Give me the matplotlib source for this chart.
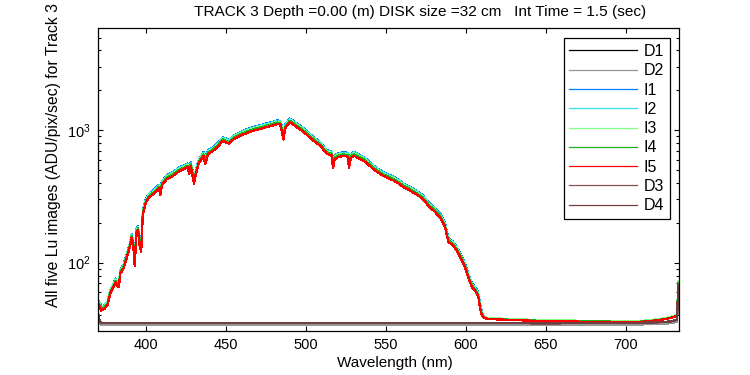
import matplotlib
matplotlib.use("Agg")
import matplotlib.pyplot as plt
from matplotlib.ticker import LogLocator, LogFormatterMathtext, NullFormatter, FixedLocator

plt.rcParams['font.family'] = ['Liberation Sans', 'DejaVu Sans']
plt.rcParams['mathtext.default'] = 'regular'

# ---------------- data ----------------
wavelength = [370, 371, 372, 374, 376, 377, 378, 380, 381, 382, 383, 384, 386, 388, 390, 391, 392, 393, 394, 395,
              396, 397, 398, 400, 402, 404, 406, 408, 409, 410, 413, 417, 421, 424, 426, 427, 428, 430, 431, 433,
              436, 437, 439, 442, 445, 448, 450, 452, 455, 459, 463, 467, 471, 475, 478, 482, 484, 486, 487, 490,
              493, 496, 499, 502, 505, 509, 513, 516, 517, 518, 520, 523, 526, 527, 528, 530, 533, 536, 539, 542,
              545, 548, 551, 555, 558, 561, 564, 567, 570, 573, 577, 580, 584, 587, 588, 589, 592, 594, 596, 598,
              600, 602, 604, 606, 607, 608, 609, 610, 611, 613, 616, 620, 630, 640, 650, 660, 670, 680, 690, 700,
              710, 715, 720, 725, 728, 731, 732, 733]

I1 = [52, 50, 46.3, 47.8, 51, 58, 63, 71, 76, 71, 70, 88, 97, 116, 140, 164, 148, 107, 179, 188,
      154, 135, 245, 304, 331, 346, 364, 387, 364, 411, 456, 484, 525, 543, 560, 520, 572, 442, 487, 598,
      681, 622, 707, 744, 801, 886, 863, 842, 915, 967, 1014, 1056, 1087, 1118, 1144, 1186, 1175, 952, 1102, 1222,
      1154, 1087, 1024, 946, 884, 811, 707, 692, 582, 645, 666, 681, 676, 582, 655, 684, 655, 627, 588, 543,
      512, 485, 466, 444, 421, 396, 380, 362, 343, 323, 283, 262, 234, 198, 175, 154, 144, 133, 121, 108,
      95, 79, 70, 64.5, 62.4, 57.2, 47.8, 42.6, 39.2, 38.1, 37.8, 37.5, 37.1, 36.7, 36.5, 36.3, 36.1, 36.0, 36.0, 35.9,
      36.0, 36.4, 37.0, 37.7, 38.5, 39.5, 40.1, 68]

I2 = [51.5, 49.4, 45.8, 47.4, 50.5, 57.7, 62.8, 70, 75.2, 70, 69, 87.6, 95.8, 115, 139, 163, 146, 106, 177, 186,
      152, 134, 243, 301, 328, 343, 361, 383, 361, 407, 451, 479, 520, 538, 554, 515, 567, 438, 482, 592,
      675, 616, 700, 736, 793, 878, 855, 834, 906, 958, 1004, 1045, 1076, 1107, 1133, 1174, 1164, 942, 1092, 1210,
      1143, 1076, 1015, 937, 876, 803, 700, 685, 577, 639, 659, 675, 670, 577, 649, 678, 649, 621, 582, 538,
      507, 480, 461, 440, 417, 392, 376, 358, 340, 320, 280, 260, 232, 196, 173, 152, 142, 132, 119, 107,
      94, 78, 69, 63.9, 61.8, 56.7, 47.4, 42.2, 39.0, 38.0, 37.7, 37.5, 37.1, 36.7, 36.5, 36.3, 36.1, 36.0, 36.0, 35.9,
      36.0, 36.4, 37.0, 37.7, 38.5, 39.5, 40.1, 69]

I3 = [50.8, 48.7, 45.2, 46.7, 49.7, 56.8, 61.9, 69, 74.1, 69, 68, 86.3, 94.4, 114, 137, 160, 144, 105, 175, 184,
      150, 132, 240, 296, 323, 338, 355, 378, 355, 401, 445, 472, 513, 530, 546, 508, 558, 431, 475, 584,
      665, 607, 690, 726, 782, 865, 842, 822, 893, 944, 990, 1030, 1061, 1091, 1117, 1157, 1147, 929, 1076, 1193,
      1127, 1061, 1000, 924, 863, 792, 690, 675, 568, 629, 650, 665, 660, 568, 639, 668, 639, 612, 573, 530,
      499, 473, 455, 433, 411, 387, 370, 353, 335, 316, 276, 256, 228, 193, 171, 150, 140, 130, 118, 106,
      92, 77, 68, 62.9, 60.9, 55.8, 46.7, 41.6, 39.4, 38.4, 38.1, 37.9, 37.5, 37.1, 36.9, 36.7, 36.5, 36.4, 36.4, 36.3,
      36.4, 36.8, 37.4, 38.1, 38.9, 40.0, 40.6, 72]

I4 = [50, 48, 44.5, 46, 49, 56, 61, 68, 73, 68, 67, 85, 93, 112, 135, 158, 142, 103, 172, 181,
      148, 130, 236, 292, 318, 333, 350, 372, 350, 395, 438, 465, 505, 522, 538, 500, 550, 425, 468, 575,
      655, 598, 680, 715, 770, 852, 830, 810, 880, 930, 975, 1015, 1045, 1075, 1100, 1140, 1130, 915, 1060, 1175,
      1110, 1045, 985, 910, 850, 780, 680, 665, 560, 620, 640, 655, 650, 560, 630, 658, 630, 603, 565, 522,
      492, 466, 448, 427, 405, 381, 365, 348, 330, 311, 272, 252, 225, 190, 168, 148, 138, 128, 116, 104,
      91, 76, 67, 62, 60, 55, 46, 41, 38.8, 37.9, 37.6, 37.4, 37.0, 36.6, 36.4, 36.2, 36.0, 35.9, 35.9, 35.8,
      35.9, 36.3, 36.9, 37.6, 38.4, 39.4, 40.0, 70]

I5 = [48.8, 46.8, 43.4, 44.9, 47.8, 54.6, 59.5, 66.3, 71.2, 66.3, 65.3, 82.9, 90.7, 109, 132, 154, 138, 94, 168, 176,
      136, 120, 230, 285, 310, 325, 341, 363, 325, 385, 427, 453, 492, 509, 525, 465, 536, 395, 456, 561,
      639, 556, 663, 697, 751, 831, 809, 790, 858, 907, 951, 990, 1019, 1048, 1073, 1112, 1102, 850, 1034, 1146,
      1082, 1019, 960, 887, 829, 761, 663, 648, 520, 605, 624, 639, 634, 520, 614, 642, 614, 588, 551, 509,
      480, 454, 437, 416, 395, 371, 356, 339, 322, 303, 265, 246, 219, 185, 164, 144, 135, 125, 113, 101,
      89, 74, 65, 60.5, 58.5, 53.6, 44.9, 40.0, 38.7, 37.8, 37.5, 37.3, 36.9, 36.5, 36.3, 36.1, 35.9, 35.8, 35.8, 35.7,
      35.8, 36.2, 36.8, 37.5, 38.3, 39.3, 39.9, 66]

dark_wavelength = [370, 371, 372, 380, 400, 450, 500, 550, 600, 650, 700, 720, 728, 732, 733]
D1 = [41, 36, 34.6, 34.7, 34.6, 34.5, 34.7, 34.6, 34.5, 34.5, 34.6, 35.0, 35.5, 36.5, 60]
D2 = [38, 35, 34.0, 34.1, 34.0, 34.0, 34.1, 34.0, 34.0, 33.9, 34.0, 34.4, 34.9, 35.8, 55]
D3 = [42, 36.5, 34.9, 35.0, 34.9, 34.9, 35.0, 34.9, 34.9, 34.8, 34.9, 35.4, 35.9, 37.0, 62]
D4 = [42, 36.5, 35.0, 34.9, 35.0, 35.0, 34.9, 35.0, 35.0, 34.9, 35.0, 35.5, 36.0, 37.2, 68]

series_names = ['D1', 'D2', 'I1', 'I2', 'I3', 'I4', 'I5', 'D3', 'D4']
series_colors = ['#000000', '#969696', '#0080FF', '#30E0F0', '#80FF80', '#20B020', '#FF0000', '#885050', '#704040']

title_text = "TRACK 3 Depth =0.00 (m) DISK size =32 cm   Int Time = 1.5 (sec)"
xlabel_text = "Wavelength (nm)"
ylabel_text = "All five Lu images (ADU/pix/sec) for Track 3"
xticks = [400, 450, 500, 550, 600, 650, 700]

# ---------------- figure ----------------
fig = plt.figure(figsize=(7.5, 3.75), dpi=100)
ax = fig.add_axes([98 / 750, 44 / 375, 580.5 / 750, 303 / 375])

series = {'D1': (dark_wavelength, D1), 'D2': (dark_wavelength, D2),
          'I1': (wavelength, I1), 'I2': (wavelength, I2), 'I3': (wavelength, I3),
          'I4': (wavelength, I4), 'I5': (wavelength, I5),
          'D3': (dark_wavelength, D3), 'D4': (dark_wavelength, D4)}

for name, col in zip(series_names, series_colors):
    xs, ys = series[name]
    ax.plot(xs, ys, color=col, lw=0.9, label=name, antialiased=False)

ax.set_yscale('log')
ax.set_xlim(370, 733)
ax.set_ylim(30.5, 5900)

ax.xaxis.set_major_locator(FixedLocator(xticks))
ax.yaxis.set_major_locator(LogLocator(base=10))
ax.yaxis.set_minor_locator(LogLocator(base=10, subs=range(2, 10)))
ax.yaxis.set_major_formatter(LogFormatterMathtext())
ax.yaxis.set_minor_formatter(NullFormatter())

ax.tick_params(which='both', direction='in', top=True, right=True, labelsize=10.5, width=0.8, color='black')
ax.tick_params(which='major', length=3.8)
ax.tick_params(which='minor', length=2.2)
ax.tick_params(axis='x', pad=5)
ax.tick_params(axis='y', pad=5)
for s in ax.spines.values():
    s.set_linewidth(0.9)

leg = ax.legend(loc='upper right', bbox_to_anchor=(0.985, 0.966), fontsize=11.5, frameon=True,
                fancybox=False, edgecolor='black', framealpha=1, handlelength=4.2, handletextpad=0.45,
                labelspacing=0.27, borderpad=0.35, borderaxespad=0)
leg.get_frame().set_linewidth(0.9)

fig.text(420 / 750, 1 - 12 / 375, title_text, ha='center', va='center', fontsize=11.1)
fig.text(395 / 750, 1 - 363 / 375, xlabel_text, ha='center', va='center', fontsize=11)
fig.text(54 / 750, 1 - 307 / 375, ylabel_text, ha='center', va='bottom', rotation=90, fontsize=11.3)

fig.savefig('out.png', dpi=100)
